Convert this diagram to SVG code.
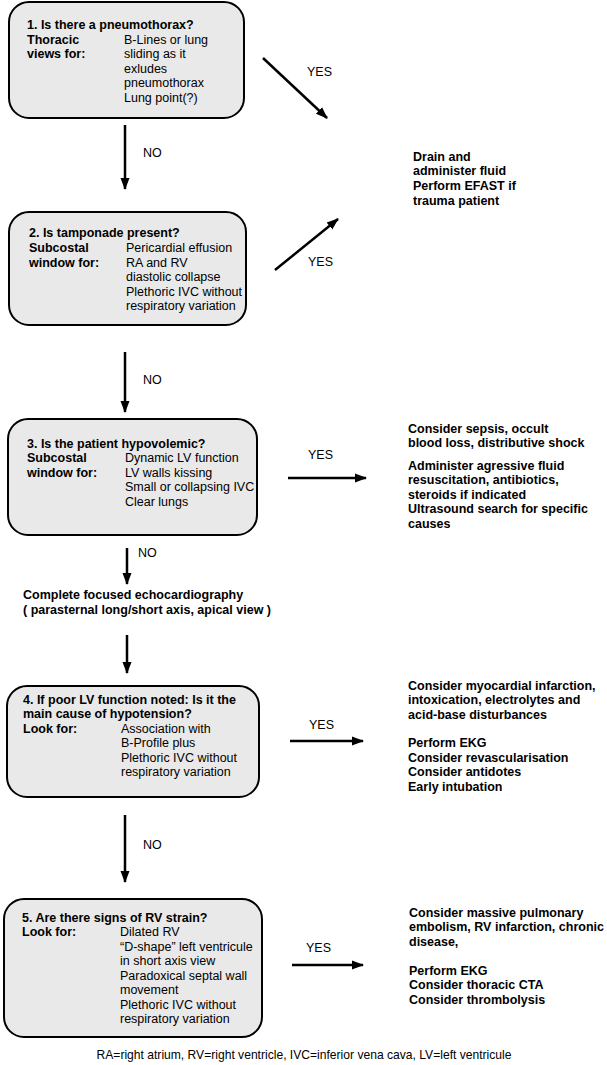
<svg xmlns="http://www.w3.org/2000/svg" width="607" height="1065" viewBox="0 0 607 1065">
<defs>
<marker id="ah" markerUnits="userSpaceOnUse" markerWidth="12" markerHeight="12" viewBox="0 0 12 12" refX="11" refY="6" orient="auto">
<path d="M0,1.5 L12,6 L0,10.5 Z" fill="#000"/>
</marker>
<style>
.box{fill:#e9e9e9;stroke:#000;stroke-width:2}
.t{font-family:"Liberation Sans",Arial,sans-serif;font-size:12.5px;fill:#000}
.b{font-weight:bold}
.f{font-size:12.1px}
.ar{stroke:#000;stroke-width:2.5;fill:none;marker-end:url(#ah)}
</style>
</defs>
<rect width="607" height="1065" fill="#fff"/>

<g id="connectors">
<line class="ar" x1="263" y1="58" x2="327" y2="118"/>
<line class="ar" x1="125" y1="125" x2="125" y2="189"/>
<line class="ar" x1="275" y1="270" x2="338" y2="219"/>
<line class="ar" x1="125" y1="352" x2="125" y2="412"/>
<line class="ar" x1="288" y1="478" x2="366" y2="478"/>
<line class="ar" x1="127" y1="548" x2="127" y2="584"/>
<line class="ar" x1="127" y1="635" x2="127" y2="673"/>
<line class="ar" x1="290" y1="741" x2="363" y2="741"/>
<line class="ar" x1="125" y1="815" x2="125" y2="882"/>
<line class="ar" x1="292" y1="965" x2="363" y2="965"/>
<text class="t" x="307" y="76">YES</text>
<text class="t" x="143" y="157">NO</text>
<text class="t" x="308" y="266">YES</text>
<text class="t" x="143" y="384">NO</text>
<text class="t" x="308" y="459">YES</text>
<text class="t" x="138" y="557">NO</text>
<text class="t" x="309" y="729">YES</text>
<text class="t" x="143" y="849">NO</text>
<text class="t" x="306" y="952">YES</text>
</g>

<g id="node1">
<rect class="box" x="9" y="2" width="235" height="116" rx="20"/>
<text class="t b" x="27" y="29">1. Is there a pneumothorax?</text>
<text class="t b" x="27" y="43.5">Thoracic</text>
<text class="t b" x="27" y="58">views for:</text>
<text class="t" x="124" y="43.5">B-Lines or lung</text>
<text class="t" x="124" y="58">sliding as it</text>
<text class="t" x="124" y="72.5">exludes</text>
<text class="t" x="124" y="87">pneumothorax</text>
<text class="t" x="124" y="101.5">Lung point(?)</text>
</g>

<g id="node-drain">
<text class="t b" x="413" y="160.5">Drain and</text>
<text class="t b" x="413" y="175">administer fluid</text>
<text class="t b" x="413" y="189.5">Perform EFAST if</text>
<text class="t b" x="413" y="204.5">trauma patient</text>
</g>

<g id="node2">
<rect class="box" x="9" y="212" width="237" height="113" rx="20"/>
<text class="t b" x="29" y="237">2. Is tamponade present?</text>
<text class="t b" x="29" y="252">Subcostal</text>
<text class="t b" x="29" y="266.5">window for:</text>
<text class="t" x="126" y="252">Pericardial effusion</text>
<text class="t" x="126" y="266.5">RA and RV</text>
<text class="t" x="126" y="281">diastolic collapse</text>
<text class="t" x="126" y="295.5">Plethoric IVC without</text>
<text class="t" x="126" y="310">respiratory variation</text>
</g>

<g id="node3">
<rect class="box" x="8" y="419" width="249" height="116" rx="20"/>
<text class="t b" x="27" y="447.5">3. Is the patient hypovolemic?</text>
<text class="t b" x="27" y="462">Subcostal</text>
<text class="t b" x="27" y="476.5">window for:</text>
<text class="t" x="125" y="462">Dynamic LV function</text>
<text class="t" x="125" y="476.5">LV walls kissing</text>
<text class="t" x="125" y="491">Small or collapsing IVC</text>
<text class="t" x="125" y="505.5">Clear lungs</text>
</g>

<g id="node3-yes">
<text class="t b" x="408" y="432.5">Consider sepsis, occult</text>
<text class="t b" x="408" y="447">blood loss, distributive shock</text>
<text class="t b" x="408" y="469.5">Administer agressive fluid</text>
<text class="t b" x="408" y="484">resuscitation, antibiotics,</text>
<text class="t b" x="408" y="498.5">steroids if indicated</text>
<text class="t b" x="408" y="513">Ultrasound search for specific</text>
<text class="t b" x="408" y="527.5">causes</text>
</g>

<g id="node-echo">
<text class="t b" x="23" y="599">Complete focused echocardiography</text>
<text class="t b" x="23" y="613.5">( parasternal long/short axis, apical view )</text>
</g>

<g id="node4">
<rect class="box" x="7" y="686" width="252" height="111" rx="20"/>
<text class="t b" x="23" y="703.5">4. If poor LV function noted: Is it the</text>
<text class="t b" x="23" y="718">main cause of hypotension?</text>
<text class="t b" x="23" y="732.5">Look for:</text>
<text class="t" x="121" y="732.5">Association with</text>
<text class="t" x="121" y="747">B-Profile plus</text>
<text class="t" x="121" y="761.5">Plethoric IVC without</text>
<text class="t" x="121" y="776">respiratory variation</text>
</g>

<g id="node4-yes">
<text class="t b" x="408" y="689.5">Consider myocardial infarction,</text>
<text class="t b" x="408" y="704">intoxication, electrolytes and</text>
<text class="t b" x="408" y="718.5">acid-base disturbances</text>
<text class="t b" x="408" y="747">Perform EKG</text>
<text class="t b" x="408" y="761.5">Consider revascularisation</text>
<text class="t b" x="408" y="776">Consider antidotes</text>
<text class="t b" x="408" y="790.5">Early intubation</text>
</g>

<g id="node5">
<rect class="box" x="4" y="899" width="258" height="138" rx="20"/>
<text class="t b" x="22" y="921.5">5. Are there signs of RV strain?</text>
<text class="t b" x="22" y="936">Look for:</text>
<text class="t" x="120" y="936">Dilated RV</text>
<text class="t" x="120" y="950.5">“D-shape” left ventricule</text>
<text class="t" x="120" y="965">in short axis view</text>
<text class="t" x="120" y="979.5">Paradoxical septal wall</text>
<text class="t" x="120" y="994">movement</text>
<text class="t" x="120" y="1008.5">Plethoric IVC without</text>
<text class="t" x="120" y="1023">respiratory variation</text>
</g>

<g id="node5-yes">
<text class="t b" x="409" y="916.5">Consider massive pulmonary</text>
<text class="t b" x="409" y="931">embolism, RV infarction, chronic</text>
<text class="t b" x="409" y="945.5">disease,</text>
<text class="t b" x="409" y="974.5">Perform EKG</text>
<text class="t b" x="409" y="989">Consider thoracic CTA</text>
<text class="t b" x="409" y="1003.5">Consider thrombolysis</text>
</g>

<g id="footer">
<text class="t f" x="304" y="1059" text-anchor="middle">RA=right atrium, RV=right ventricle, IVC=inferior vena cava, LV=left ventricule</text>
</g>
</svg>
